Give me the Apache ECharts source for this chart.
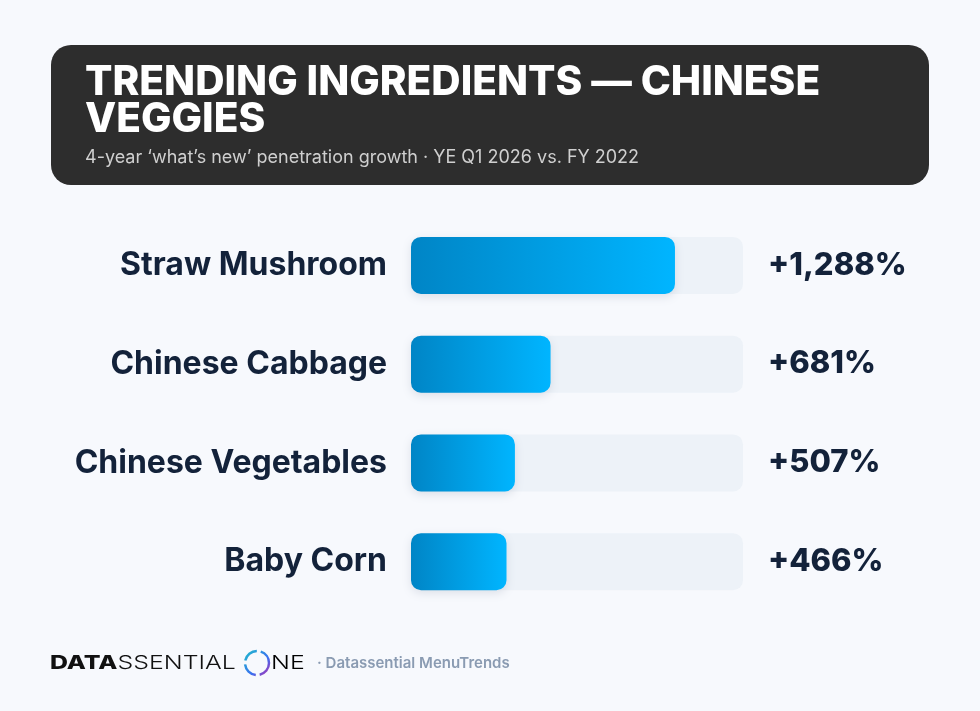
<!DOCTYPE html>
<html>
<head>
<meta charset="utf-8">
<script src="https://cdn.jsdelivr.net/npm/echarts@6/dist/echarts.min.js"></script>
<style>
	html, body { margin: 0; padding: 0; background: #F7F9FD; }
	#chart { width: 980px; height: 711px; }
</style>
</head>
<body>
<div id="chart"></div>
<script>
// 数据
var ingredients = ['Straw Mushroom', 'Chinese Cabbage', 'Chinese Vegetables', 'Baby Corn'];
var growthPct = [1288, 681, 507, 466];
var axisMax = 1620;

var titleText = 'TRENDING INGREDIENTS — CHINESE\nVEGGIES';
var subText = '4-year \u2018what\u2019s new\u2019 penetration growth \u00b7 YE Q1 2026 vs. FY 2022';
var sourceText = '\u00b7 Datassential MenuTrends';

var FONT = 'Inter, "Open Sans", sans-serif';

const chart = echarts.init(document.getElementById('chart'));

const opt = {
	backgroundColor: '#F7F9FD',
	title: [{
		left: 80,
		top: 59,
		text: titleText,
		textStyle: {
			color: '#fff',
			fontFamily: FONT,
			fontWeight: 800,
			fontSize: 40.6,
			lineHeight: 37
		},
		subtext: subText,
		itemGap: 7,
		subtextStyle: {
			color: '#cfcfcf',
			fontFamily: FONT,
			fontSize: 18
		}
	}],
	graphic: [
		{
			type: 'rect',
			z: -1,
			shape: { x: 51, y: 45, width: 878, height: 140, r: 20 },
			style: { fill: '#2D2D2D' }
		},
		// footer logo
		{
			type: 'text',
			x: 50,
			y: 663,
			scaleX: 1.31,
			style: {
				text: '{b|DATA}{l|SSENTIAL}',
				verticalAlign: 'middle',
				rich: {
					b: { fontFamily: FONT, fontWeight: 800, fontSize: 19, fill: '#111' },
					l: { fontFamily: FONT, fontWeight: 300, fontSize: 19, fill: '#111' }
				}
			}
		},
		{
			type: 'circle',
			shape: { cx: 257, cy: 663, r: 12 },
			style: {
				fill: 'none',
				lineWidth: 2.5,
				lineDash: [16, 4],
				stroke: new echarts.graphic.LinearGradient(0, 0, 1, 1, [
					{ offset: 0, color: '#1bc6c6' },
					{ offset: 0.6, color: '#3b6ff0' },
					{ offset: 1, color: '#d11fa0' }
				])
			}
		},
		{
			type: 'text',
			x: 271,
			y: 663,
			scaleX: 1.31,
			style: {
				text: 'NE',
				verticalAlign: 'middle',
				fontFamily: FONT,
				fontWeight: 300,
				fontSize: 19,
				fill: new echarts.graphic.LinearGradient(0, 0, 1, 0, [
					{ offset: 0, color: '#9b2bd6' },
					{ offset: 1, color: '#1f55ff' }
				])
			}
		},
		{
			type: 'text',
			x: 317,
			y: 663,
			style: {
				text: sourceText,
				verticalAlign: 'middle',
				fontFamily: FONT,
				fontWeight: 600,
				fontSize: 15,
				fill: '#8A9BB2'
			}
		}
	],
	grid: {
		left: 411,
		right: 237,
		top: 216,
		bottom: 100
	},
	xAxis: {
		type: 'value',
		min: 0,
		max: axisMax,
		show: false
	},
	yAxis: {
		type: 'category',
		inverse: true,
		data: ingredients,
		axisLine: { show: false },
		axisTick: { show: false },
		axisLabel: {
			margin: 24,
			color: '#13223A',
			fontFamily: FONT,
			fontWeight: 700,
			fontSize: 32
		}
	},
	series: [{
		type: 'bar',
		data: growthPct,
		barWidth: 57,
		showBackground: true,
		backgroundStyle: {
			color: '#EDF2F8',
			borderRadius: 10
		},
		itemStyle: {
			borderRadius: 10,
			color: new echarts.graphic.LinearGradient(0, 0, 1, 0, [
				{ offset: 0, color: '#0085C6' },
				{ offset: 1, color: '#00B5FF' }
			]),
			shadowColor: 'rgba(20,40,80,0.12)',
			shadowBlur: 10,
			shadowOffsetY: 3
		},
		label: {
			show: true,
			position: 'insideRight',
			formatter: function (p) {
				return '+' + p.value.toLocaleString('en-US') + '%';
			},
			color: '#13223A',
			fontFamily: FONT,
			fontWeight: 800,
			fontSize: 31
		},
		// 放在轨道右侧
		labelLayout: function (params) {
			return {
				x: 768,
				y: params.rect.y + params.rect.height / 2,
				align: 'left',
				verticalAlign: 'middle'
			};
		}
	}]
};
chart.setOption(opt);

window.onresize = function () {
	chart.resize();
};
</script>
</body>
</html>
